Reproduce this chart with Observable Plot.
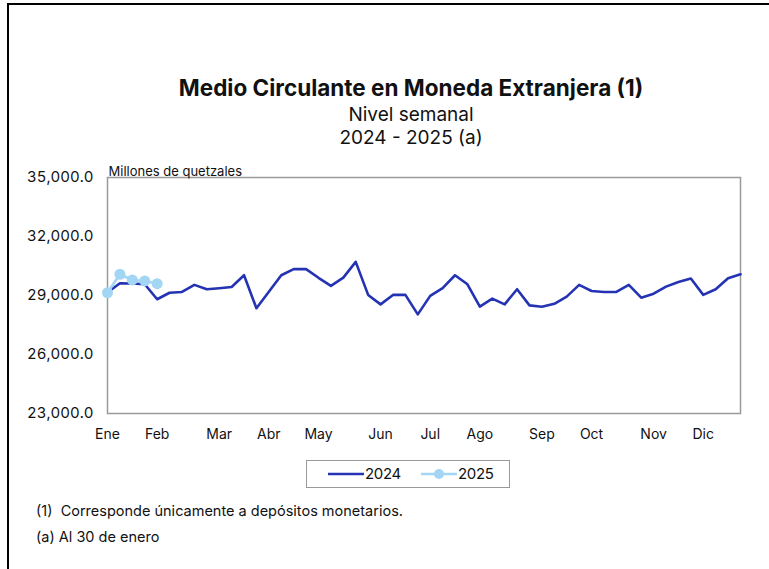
<!DOCTYPE html>
<html>
<head>
<meta charset="utf-8">
<script src="https://cdn.jsdelivr.net/npm/d3@7"></script>
<script src="https://cdn.jsdelivr.net/npm/@observablehq/plot@0.6"></script>
<style>
  html, body { margin: 0; padding: 0; background: #fff; }
  #wrap { position: relative; width: 769px; height: 569px; overflow: hidden; font-family: Inter, "Noto Sans", sans-serif; color: #111; }
  #border { position: absolute; left: 7px; top: 3px; width: 800px; height: 600px; border-left: 2px solid #000; border-top: 2px solid #000; }
  .t { position: absolute; left: 0; width: 822px; text-align: center; white-space: nowrap; letter-spacing: 0; }
  #chart { position: absolute; left: 0; top: 151px; }
  #legend { position: absolute; left: 306px; top: 460px; width: 202px; height: 26px; border: 1.5px solid #999; box-sizing: content-box; }
  .note { position: absolute; left: 36px; font-size: 14.5px; letter-spacing: 0; white-space: nowrap; }
</style>
</head>
<body>
<div id="wrap">
  <div id="border"></div>
  <div class="t" style="top:74px;font-size:22.5px;font-weight:700;">Medio Circulante en Moneda Extranjera (1)</div>
  <div class="t" style="top:103px;font-size:19px;">Nivel semanal</div>
  <div class="t" style="top:126px;font-size:19px;">2024 - 2025 (a)</div>
  <div id="chart"></div>
  <div id="legend"></div>
  <div class="note" style="top:502px;">(1)&nbsp; Corresponde únicamente a depósitos monetarios.</div>
  <div class="note" style="top:528px;">(a) Al 30 de enero</div>
</div>
<script>
const series2024 = [29150, 29620, 29610, 29570, 28810, 29140, 29180, 29540, 29320, 29370,
  29430, 30030, 28350, 29190, 30030, 30340, 30340, 29900, 29490, 29910,
  30710, 29030, 28550, 29030, 29030, 28040, 28980, 29370, 30030, 29570,
  28430, 28840, 28550, 29320, 28500, 28430, 28580, 28940, 29540, 29230,
  29180, 29180, 29540, 28890, 29090, 29450, 29690, 29860, 29030, 29320,
  29880, 30080];
const series2025 = [29140, 30080, 29790, 29740, 29600];
const monthLabels = ["Ene", "Feb", "Mar", "Abr", "May", "Jun", "Jul", "Ago", "Sep", "Oct", "Nov", "Dic"];
const monthWeeks = [0, 4, 9, 13, 17, 22, 26, 30, 35, 39, 44, 48];
const yTicks = [23000, 26000, 29000, 32000, 35000];
const years = ["2024", "2025"];
const colors = ["#2433b3", "#a3d5f5"];

const data = [
  ...series2024.map((v, i) => ({year: "2024", week: i, value: v})),
  ...series2025.map((v, i) => ({year: "2025", week: i, value: v}))
];

const fmt = d3.format(",.1f");
const chart = Plot.plot({
  width: 769,
  height: 300,
  marginLeft: 107,
  marginRight: 29,
  marginTop: 26,
  marginBottom: 38,
  style: {fontFamily: "Inter, 'Noto Sans', sans-serif", fontSize: "13.5px", color: "#111", background: "transparent"},
  x: {domain: [0, series2024.length - 1], axis: null},
  y: {domain: [23000, 35000], axis: null},
  color: {domain: years, range: colors},
  marks: [
    Plot.frame({stroke: "#9a9a9a", strokeWidth: 1.5}),
    Plot.axisY({ticks: yTicks, tickFormat: fmt, tickSize: 0, tickPadding: 14, label: null, fontSize: 15}),
    Plot.axisX({ticks: monthWeeks, tickFormat: (d) => monthLabels[monthWeeks.indexOf(d)], tickSize: 0, tickPadding: 16, label: null, fontSize: 14, letterSpacing: -0.3}),
    Plot.text(["Millones de quetzales"], {frameAnchor: "top-left", dy: -11, dx: 1, textAnchor: "start", fontSize: 13}),
    Plot.line(data.filter(d => d.year === "2024"), {x: "week", y: "value", stroke: "year", strokeWidth: 2.6}),
    Plot.line(data.filter(d => d.year === "2025"), {x: "week", y: "value", stroke: "year", strokeWidth: 2.6}),
    Plot.dot(data.filter(d => d.year === "2025"), {x: "week", y: "value", fill: "year", r: 5.5})
  ]
});
document.getElementById("chart").appendChild(chart);

// legend
const leg = d3.select("#legend").append("svg").attr("width", 202).attr("height", 26);
const items = [
  {label: years[0], color: colors[0], x: 21, dot: false},
  {label: years[1], color: colors[1], x: 114, dot: true}
];
items.forEach(it => {
  const g = leg.append("g").attr("transform", `translate(${it.x},13)`);
  g.append("line").attr("x1", 0).attr("x2", 36).attr("y1", 0).attr("y2", 0).attr("stroke", it.color).attr("stroke-width", 2.6);
  if (it.dot) g.append("circle").attr("cx", 18).attr("cy", 0).attr("r", 5).attr("fill", it.color);
  g.append("text").attr("x", 37).attr("y", 0).attr("dy", "0.35em").attr("font-size", 15).attr("letter-spacing", -0.3)
    .attr("font-family", "Inter, 'Noto Sans', sans-serif").attr("fill", "#111").text(it.label);
});
</script>
</body>
</html>
